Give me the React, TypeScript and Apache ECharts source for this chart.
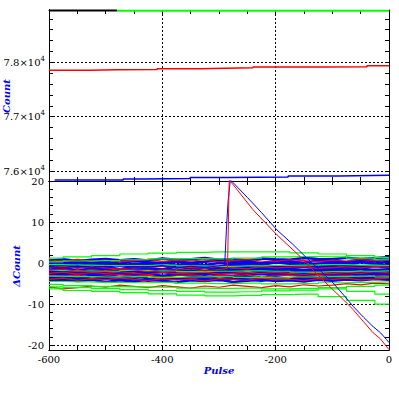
import React, { useEffect, useRef } from "react";
import * as echarts from "echarts";

// ---------- data ----------
const X25 = [-600, -575, -550, -525, -500, -475, -450, -425, -400, -375, -350, -325, -300, -275, -250, -225, -200, -175, -150, -125, -100, -75, -50, -25, 0];
const X13 = [-600, -550, -500, -450, -400, -350, -300, -250, -200, -150, -100, -50, 0];

// top panel (Count)
const topBlackX = [-600, -480];
const topBlackY = [78955, 78955];
const topGreenX = [-480, 0];
const topGreenY = [78948, 78948];
const topRedX = [-600, -529, -480, -409, -334, -289, -240, -118, -39, 0];
const topRedY = [77852, 77864, 77866, 77880, 77890, 77898, 77913, 77919, 77935, 77935];
const topBlueX = [-590, -469, -431, -351, -284, -178, -88, 0];
const topBlueY = [75834, 75853, 75862, 75880, 75890, 75908, 75920, 75922];

// bottom panel (ΔCount) band series
const blueBand = [
  [0.6, 0.9, 0.5, 0.8, 1.0, 0.7, 0.9, 0.6, 1.1, 0.8, 0.9, 1.2, 0.8, 1.0, 0.7, 1.1, 0.9, 0.8, 1.2, 1.0, 0.9, 1.3, 1.0, 1.2, 1.4],
  [-0.2, -0.5, 0.0, -0.4, -0.1, -0.6, -0.2, -0.3, 0.1, -0.4, -0.2, -0.5, 0.0, -0.3, -0.1, -0.4, 0.1, -0.2, -0.5, -0.1, 0.0, -0.3, 0.2, -0.1, 0.3],
  [-1.0, -1.4, -0.9, -1.3, -1.1, -1.6, -1.0, -1.2, -1.5, -0.9, -1.3, -1.1, -1.4, -1.0, -1.2, -1.6, -1.1, -1.3, -0.9, -1.2, -1.4, -1.0, -1.1, -0.8, -1.0],
  [-2.1, -1.8, -2.3, -1.9, -2.2, -1.7, -2.0, -2.4, -1.9, -2.1, -1.8, -2.3, -2.0, -2.2, -1.7, -2.1, -1.9, -2.4, -2.0, -1.8, -2.2, -1.9, -2.1, -1.7, -1.9],
  [-2.7, -3.0, -2.6, -2.9, -3.2, -2.7, -2.9, -2.6, -3.1, -2.8, -3.0, -2.6, -2.9, -3.2, -2.8, -2.7, -3.0, -2.8, -3.1, -2.6, -2.9, -2.7, -3.0, -2.6, -2.8],
  [-3.4, -3.7, -3.3, -3.8, -3.5, -3.6, -3.2, -3.7, -3.4, -3.9, -3.5, -3.3, -3.8, -3.6, -3.4, -3.7, -3.5, -3.9, -3.4, -3.6, -3.3, -3.7, -3.5, -3.2, -3.4],
  [-4.3, -4.0, -4.4, -4.1, -4.6, -4.2, -4.5, -4.0, -4.3, -4.7, -4.2, -4.4, -4.1, -4.6, -4.3, -4.0, -4.4, -4.2, -4.5, -4.1, -4.3, -4.0, -4.2, -3.9, -4.1],
  [-0.7, -0.9, -0.6, -1.0, -0.8, -0.5, -0.9, -0.7, -0.6, -1.0, -0.8, -0.7, -0.9, -0.6, -0.8, -1.0, -0.7, -0.9, -0.6, -0.8, -0.7, -0.5, -0.8, -0.6, -0.4],
  [-1.7, -1.5, -1.8, -1.6, -1.4, -1.9, -1.6, -1.7, -1.5, -1.8, -1.6, -1.9, -1.5, -1.7, -1.6, -1.4, -1.8, -1.6, -1.7, -1.5, -1.8, -1.6, -1.4, -1.7, -1.5],
  [0.2, 0.0, 0.4, 0.1, 0.3, -0.1, 0.5, 0.2, 0.0, 0.4, 0.1, 0.3, 0.6, 0.2, 0.4, 0.0, 0.5, 0.3, 0.1, 0.6, 0.4, 0.2, 0.7, 0.5, 0.8],
  [-2.4, -2.6, -2.2, -2.5, -2.7, -2.3, -2.6, -2.4, -2.2, -2.6, -2.5, -2.8, -2.3, -2.5, -2.7, -2.4, -2.6, -2.3, -2.5, -2.7, -2.4, -2.2, -2.5, -2.3, -2.4],
  [-3.9, -4.2, -3.8, -4.0, -3.7, -4.1, -3.9, -4.3, -4.0, -3.8, -4.1, -3.9, -4.2, -3.8, -4.0, -4.3, -3.9, -4.1, -3.8, -4.0, -3.7, -4.0, -3.8, -3.6, -3.7],
];
const redBand = [
  [0.8, 0.4, 0.9, 0.5, 0.7, 0.3, 0.6, 0.9, 0.4, 0.7, 0.5, 0.8, 0.3, 0.6, 0.9, 0.5, 0.4, 0.8, 0.6, 0.3, 0.7, 0.5, 0.9, 0.6, 0.8],
  [-2.5, -2.2, -2.7, -2.3, -2.6, -2.1, -2.5, -2.8, -2.3, -2.6, -2.4, -2.2, -2.7, -2.5, -2.3, -2.6, -2.2, -2.5, -2.8, -2.4, -2.6, -2.3, -2.5, -2.1, -2.4],
  [-4.0, -3.7, -4.2, -3.8, -4.1, -3.6, -4.0, -4.3, -3.8, -4.1, -3.9, -4.4, -3.8, -4.0, -4.2, -3.7, -4.1, -3.9, -4.3, -3.8, -4.0, -3.7, -4.1, -3.9, -3.6],
  [-5.8, -6.3, -6.0, -5.6, -5.9, -5.4, -5.7, -6.0, -5.5, -5.8, -6.1, -5.6, -5.9, -5.4, -5.7, -6.0, -5.5, -5.8, -5.3, -5.6, -5.4, -5.0, -5.3, -4.9, -5.1],
  [-1.1, -0.8, -1.3, -0.9, -1.2, -1.4, -0.9, -1.1, -0.7, -1.2, -1.0, -1.3, -0.8, -1.1, -1.4, -0.9, -1.2, -1.0, -0.8, -1.3, -1.1, -0.9, -1.2, -0.8, -1.0],
  [-3.0, -3.3, -2.9, -3.4, -3.1, -2.8, -3.2, -3.0, -3.5, -3.1, -2.9, -3.3, -3.0, -3.2, -2.8, -3.4, -3.1, -3.0, -3.3, -2.9, -3.2, -3.0, -3.4, -3.1, -3.3],
];
const greenBand = [
  [1.2, 1.5, 1.8, 2.2, 2.4, 2.6, 2.7, 2.7, 2.7, 2.5, 2.2, 1.8, 1.3],
  [0.3, 0.5, 0.6, 0.8, 1.0, 1.1, 1.0, 1.2, 1.5, 1.6, 1.5, 1.2, 0.8],
  [-0.4, -0.5, -0.6, -0.6, -0.5, -0.7, -0.8, -0.7, -0.6, -0.5, -0.4, -0.5, -0.6],
  [-1.8, -1.9, -2.0, -1.8, -1.9, -2.1, -2.0, -1.9, -2.0, -2.2, -2.1, -2.0, -1.9],
  [-3.2, -3.3, -3.4, -3.3, -3.5, -3.4, -3.3, -3.5, -3.6, -3.4, -3.3, -3.2, -3.4],
  [-4.5, -4.6, -4.7, -4.8, -4.7, -4.9, -5.0, -4.9, -5.1, -5.0, -4.8, -4.7, -4.6],
  [-5.2, -5.5, -5.7, -5.8, -5.9, -6.1, -6.2, -6.1, -6.3, -6.2, -6.0, -5.7, -5.4],
  [-6.3, -6.7, -6.9, -7.2, -7.5, -7.8, -8.0, -7.9, -7.7, -7.6, -8.2, -9.1, -10.0],
  [-5.8, -6.0, -6.2, -6.5, -6.7, -6.9, -7.1, -7.0, -6.8, -6.6, -6.3, -6.9, -7.6],
];

// the two runaway series
const blueSpikeX = [-600, -575, -550, -525, -500, -475, -450, -425, -400, -375, -350, -325, -300, -290, -287, -284, -280, -250, -225, -198, -170, -145, -120, -99, -80, -63, -45, -28, -15, -4, 0];
const blueSpikeY = [-0.9, -1.2, -0.7, -1.1, -0.8, -1.3, -0.9, -1.0, -0.6, -1.2, -0.8, -1.1, -0.7, -0.5, 8, 15, 20.3, 16.0, 12.3, 8.1, 4.6, 1.2, -2.0, -4.8, -7.8, -10.6, -13.2, -15.5, -17.0, -18.7, -19.4];
const redSpikeX = [-600, -575, -550, -525, -500, -475, -450, -425, -400, -375, -350, -325, -300, -285, -282, -275, -240, -198, -157, -130, -99, -80, -63, -45, -28, -15, 0];
const redSpikeY = [-1.8, -1.5, -2.0, -1.6, -1.9, -1.4, -1.7, -2.1, -1.6, -1.8, -1.5, -1.9, -1.6, -1.3, 20.2, 19.1, 13.0, 6.9, 1.6, -2.3, -6.5, -9.0, -11.4, -14.3, -17.0, -18.5, -21.1];

// ticks / labels
const xMajor = [-600, -400, -200, 0];
const xMinor = [-550, -500, -450, -350, -300, -250, -150, -100, -50];
const topLabelValues = [76000, 77000, 78000];
const topMinor = [76200, 76400, 76600, 76800, 77200, 77400, 77600, 77800, 78200, 78400, 78600, 78800];
const botLabelValues = [-20, -10, 0, 10, 20];
const botMinor = [-18, -16, -14, -12, -8, -6, -4, -2, 2, 4, 6, 8, 12, 14, 16, 18];

const BLUE = "#0000ff";
const RED = "#ff0000";
const GREEN = "#00ff00";
const FONT = "DejaVu Serif";

const zip = (xs: number[], ys: number[]) => xs.map((x, i) => [x, ys[i]]);

export default function App() {
  const ref = useRef<HTMLDivElement>(null);
  useEffect(() => {
    if (!ref.current) return;
    const chart = echarts.init(ref.current, null, { renderer: "svg" });

    const grid1 = { left: 49, top: 10, width: 340, height: 171 };
    const grid2 = { left: 49, top: 181, width: 340, height: 169 };

    const gridLine = { show: true, lineStyle: { color: "#000", type: [2, 2] as any, width: 1 } };
    const axisLine = { show: true, onZero: false, lineStyle: { color: "#000", width: 1 } };
    const labelStyle = { color: "#000", fontFamily: FONT, fontSize: 10 };
    const tick = (vals: number[]) => ({ show: true, inside: true, length: 4, customValues: vals, lineStyle: { color: "#000" } });

    // x axes: main (labels + grid) and tick-only copies
    const xAx = (gridIndex: number, position: string, ticks: number[], labels: boolean, split: boolean) => ({
      type: "value",
      gridIndex,
      position,
      min: -600,
      max: 0,
      axisLine,
      axisTick: tick(ticks),
      axisLabel: labels ? { ...labelStyle, margin: 4, customValues: xMajor } : { show: false },
      splitLine: split ? gridLine : { show: false },
    });

    const yTopAx = (position: string, ticks: number[], labels: boolean, split: boolean) => ({
      type: "value",
      gridIndex: 0,
      position,
      min: 75816,
      max: 78963,
      scale: true,
      axisLine,
      axisTick: tick(ticks),
      axisLabel: labels
        ? {
            ...labelStyle,
            margin: 4,
            customValues: topLabelValues,
            formatter: (v: number) => `{m|${(v / 10000).toFixed(1)}×10}{s|4}`,
            rich: {
              m: { fontFamily: FONT, fontSize: 10, color: "#000" },
              s: { fontFamily: FONT, fontSize: 7, color: "#000", padding: [0, 0, 7, 0] },
            },
          }
        : { show: false },
      splitLine: split ? gridLine : { show: false },
    });

    const yBotAx = (position: string, ticks: number[], labels: boolean, split: boolean) => ({
      type: "value",
      gridIndex: 1,
      position,
      min: -21.2,
      max: 20,
      axisLine,
      axisTick: tick(ticks),
      axisLabel: labels ? { ...labelStyle, margin: 5, customValues: botLabelValues } : { show: false },
      splitLine: split ? gridLine : { show: false },
    });

    const series: any[] = [];
    const add = (xIdx: number, yIdx: number, data: number[][], color: string, width: number, step?: any) =>
      series.push({
        type: "line",
        xAxisIndex: xIdx,
        yAxisIndex: yIdx,
        data,
        step: step || false,
        showSymbol: false,
        symbol: "none",
        lineStyle: { color, width },
        silent: true,
        clip: true,
      });

    // xAxis indices: 0 top-main, 1 top-minor(bottom), 2 top-top, 3 bot-main, 4 bot-minor(bottom), 5 bot-top
    // yAxis indices: 0 top-main, 1 top-minor(left), 2 top-right, 3 bot-main, 4 bot-minor(left), 5 bot-right
    add(0, 0, zip(topRedX, topRedY), RED, 1.5, "end");
    add(0, 0, zip(topBlueX, topBlueY), BLUE, 1.5, "end");
    add(0, 0, zip(topGreenX, topGreenY), GREEN, 2);
    add(0, 0, zip(topBlackX, topBlackY), "#000", 2);

    blueBand.forEach((ys) => add(3, 3, zip(X25, ys), BLUE, 2.5));
    redBand.forEach((ys) => add(3, 3, zip(X25, ys), RED, 1.2));
    greenBand.forEach((ys) => add(3, 3, zip(X13, ys), GREEN, 1.2, "middle"));
    add(3, 3, zip(blueSpikeX, blueSpikeY), BLUE, 1);
    add(3, 3, zip(redSpikeX, redSpikeY), RED, 1);

    const xAll = [...xMajor, ...xMinor];
    chart.setOption({
      animation: false,
      backgroundColor: "#fff",
      grid: [grid1, grid2],
      xAxis: [
        xAx(0, "bottom", xMajor, false, true),
        xAx(0, "bottom", xMinor, false, false),
        xAx(0, "top", xAll, false, false),
        xAx(1, "bottom", xMajor, true, true),
        xAx(1, "bottom", xMinor, false, false),
        xAx(1, "top", xAll, false, false),
      ],
      yAxis: [
        yTopAx("left", topLabelValues, true, true),
        yTopAx("left", topMinor, false, false),
        yTopAx("right", [...topLabelValues, ...topMinor], false, false),
        yBotAx("left", botLabelValues, true, true),
        yBotAx("left", botMinor, false, false),
        yBotAx("right", [...botLabelValues, ...botMinor], false, false),
      ],
      series,
      graphic: [
        {
          type: "text",
          x: 6,
          y: 96,
          rotation: Math.PI / 2,
          style: { text: "Count", fill: BLUE, font: `italic bold 10px '${FONT}'`, align: "center", verticalAlign: "middle" },
        },
        {
          type: "text",
          x: 16,
          y: 266,
          rotation: Math.PI / 2,
          style: { text: "ΔCount", fill: BLUE, font: `italic bold 10px '${FONT}'`, align: "center", verticalAlign: "middle" },
        },
        {
          type: "text",
          x: 219,
          y: 370,
          style: { text: "Pulse", fill: BLUE, font: `italic bold 10px '${FONT}'`, align: "center", verticalAlign: "middle" },
        },
      ],
    } as any);
    return () => chart.dispose();
  }, []);
  return <div ref={ref} style={{ position: "fixed", left: 0, top: 0, width: 399, height: 399, background: "#fff" }} />;
}
